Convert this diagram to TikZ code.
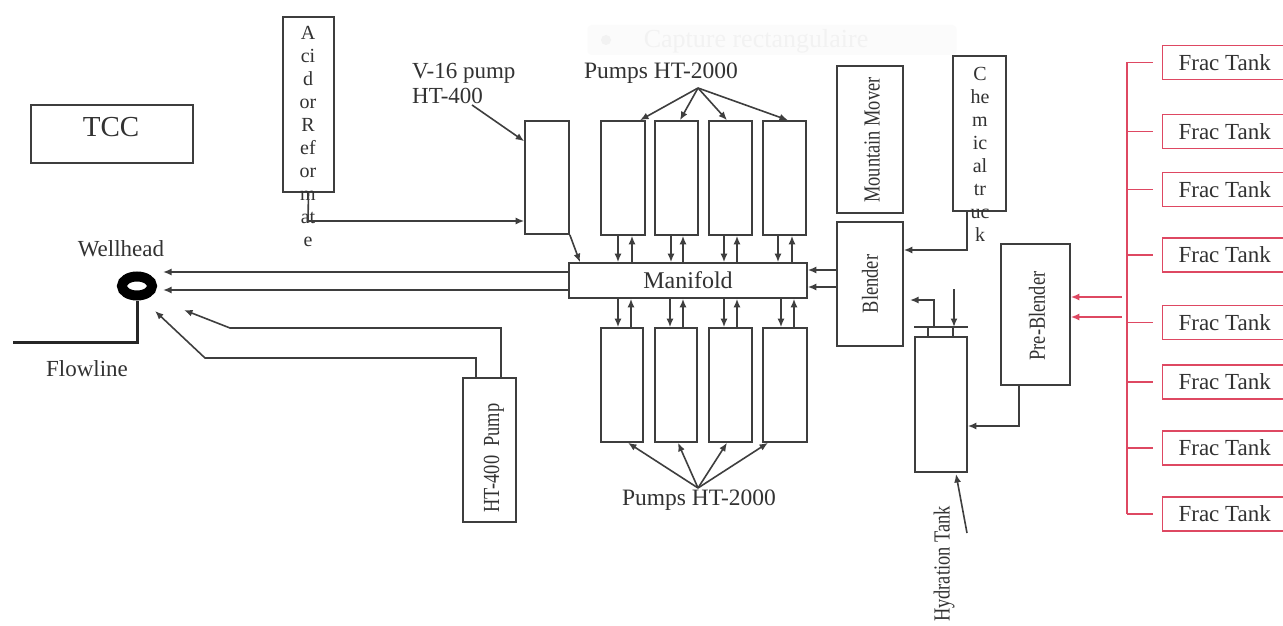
\documentclass[tikz,border=0pt]{standalone}
\usepackage{fontspec}
\setmainfont{Liberation Serif}
\usetikzlibrary{arrows.meta,shapes.geometric,calc}
\definecolor{linec}{RGB}{62,62,62}
\definecolor{txtc}{RGB}{50,50,50}
\definecolor{fracred}{RGB}{222,72,98}
\definecolor{ghost}{RGB}{242,242,242}
\definecolor{ghostbg}{RGB}{251,251,251}
\newcommand{\rottext}[1]{\scalebox{0.8}[1]{#1}}
\tikzset{
  box/.style={draw=linec, line width=1.6pt, inner sep=0pt},
  lbl/.style={text=txtc, inner sep=0pt, font=\fontsize{23}{23}\selectfont},
  conn/.style={draw=linec, line width=1.6pt},
  arr/.style={conn, -{Latex[length=8.5pt,width=7pt]}},
  redline/.style={draw=fracred, line width=1.5pt},
  redarr/.style={redline, -{Latex[length=8.5pt,width=7pt]}},
  frac/.style={draw=fracred, line width=1.4pt, inner sep=0pt, minimum width=124pt,
    minimum height=34pt, text=txtc, font=\fontsize{23}{23}\selectfont},
  stack/.style={text=txtc, inner sep=0pt, align=center, font=\fontsize{20}{23}\selectfont}
}
\begin{document}
\begin{tikzpicture}[x=1pt,y=-1pt]
\useasboundingbox (0,0) rectangle (1283,626);
\fill[white] (0,0) rectangle (1283,626);
\clip (0,0) rectangle (1283,626);

% faint screen-capture ghost
\node[fill=ghostbg, rounded corners=4pt, minimum width=369pt, minimum height=30pt, inner sep=0pt] (ghostbox) at (772,40) {};
\node[circle, fill=ghost, minimum size=10pt, inner sep=0pt] (ghostdot) at (606,40) {};
\node[lbl, text=ghost, font=\fontsize{26}{26}\selectfont] (ghosttext) at (756,41) {Capture rectangulaire};

% TCC
\node[box, minimum width=162pt, minimum height=58pt] (tcc) at (112,134) {};
\node[lbl, font=\fontsize{29}{29}\selectfont] (tcctext) at (111,127) {TCC};

% Acid or Reformate
\node[box, minimum width=51pt, minimum height=175pt] (acid) at (308.5,104.5) {};
\node[stack, anchor=north] (acidtext) at (308,26.5) {A\\ci\\d\\or\\R\\ef\\or\\m\\at\\e};

% V-16 pump
\node[box, minimum width=44pt, minimum height=113pt] (v16) at (547,177.5) {};
\node[lbl, anchor=west] (v16a) at (412,73) {V-16 pump};
\node[lbl, anchor=west] (v16b) at (412,96) {HT-400};
\coordinate (v16tail) at (472,105);
\draw[arr] (v16tail) -- ($(v16.north west)+(0,21)$);
\coordinate (acidbend) at (308,221);
\draw[arr] (acid.south) -- (acidbend) -- (acidbend -| v16.west);

% Manifold
\node[box, minimum width=238pt, minimum height=35pt, lbl, font=\fontsize{24}{24}\selectfont] (man) at (688,280.5) {Manifold};
\draw[arr] (v16.south east) -- (580,0 |- man.north);

% Top pumps
\node[box, minimum width=44pt, minimum height=114pt] (tp1) at (623,178) {};
\node[box, minimum width=43pt, minimum height=114pt] (tp2) at (676.5,178) {};
\node[box, minimum width=43pt, minimum height=114pt] (tp3) at (730.5,178) {};
\node[box, minimum width=43pt, minimum height=114pt] (tp4) at (784.5,178) {};
\node[lbl, font=\fontsize{23.5}{23.5}\selectfont] (ptop) at (661,73) {Pumps HT-2000};
\coordinate (ptopfan) at (698,88);
\draw[arr] (ptopfan) -- (640,0 |- tp1.north);
\draw[arr] (ptopfan) -- (680,0 |- tp2.north);
\draw[arr] (ptopfan) -- (727,0 |- tp3.north);
\draw[arr] (ptopfan) -- (788,0 |- tp4.north);
\foreach \x in {618,671,724,778} \draw[arr] (\x,0 |- tp1.south) -- (\x,0 |- man.north);
\foreach \x in {632,683,737,792} \draw[arr] (\x,0 |- man.north) -- (\x,0 |- tp1.south);

% Bottom pumps
\node[box, minimum width=42pt, minimum height=114pt] (bp1) at (622,385) {};
\node[box, minimum width=42pt, minimum height=114pt] (bp2) at (676,385) {};
\node[box, minimum width=43pt, minimum height=114pt] (bp3) at (730.5,385) {};
\node[box, minimum width=44pt, minimum height=114pt] (bp4) at (785,385) {};
\node[lbl, font=\fontsize{23.5}{23.5}\selectfont] (pbot) at (699,500) {Pumps HT-2000};
\coordinate (pbotfan) at (698,488);
\draw[arr] (pbotfan) -- (628,0 |- bp1.south);
\draw[arr] (pbotfan) -- (678,0 |- bp2.south);
\draw[arr] (pbotfan) -- (727,0 |- bp3.south);
\draw[arr] (pbotfan) -- (768,0 |- bp4.south);
\foreach \x in {618,670,724,781} \draw[arr] (\x,0 |- man.south) -- (\x,0 |- bp1.north);
\foreach \x in {631,683,737,794} \draw[arr] (\x,0 |- bp1.north) -- (\x,0 |- man.south);

% Wellhead
\node[ellipse, draw=black, line width=10pt, minimum width=30pt, minimum height=19pt, inner sep=0pt] (wellhead) at (137,286) {};
\node[lbl] (wellheadlbl) at (121,249) {Wellhead};
\coordinate (flowbend) at (137,342);
\coordinate (flowend) at (13,342);
\draw[black!85, line width=3pt] (wellhead.south) -- (flowbend) -- (flowend);
\node[lbl] (flowlbl) at (87,369) {Flowline};
\coordinate (wh1) at (163,272);
\coordinate (wh2) at (163,290);
\draw[arr, line width=2.8pt] (man.west |- wh1) -- (wh1);
\draw[arr, line width=2pt] (man.west |- wh2) -- (wh2);

% HT-400 Pump
\node[box, minimum width=53pt, minimum height=144pt] (ht400) at (489.5,450) {};
\node[lbl, rotate=90] (ht400text) at (494,458) {\rottext{HT-400\ \ Pump}};
\coordinate (whA) at (184,310);
\coordinate (whB) at (155,311);
\draw[arr] (501,0 |- ht400.north) -- (501,328) -- (230,328) -- (whA);
\draw[arr] (476,0 |- ht400.north) -- (476,358) -- (205,358) -- (whB);

% Mountain Mover
\node[box, minimum width=66pt, minimum height=147pt] (mm) at (870,139.5) {};
\node[lbl, rotate=90] (mmtext) at (872,140) {\rottext{Mountain Mover}};

% Chemical truck
\node[box, minimum width=53pt, minimum height=155pt] (chem) at (979.5,133.5) {};
\node[stack, anchor=north] (chemtext) at (980,67) {C\\he\\m\\ic\\al\\tr\\uc\\k};

% Blender
\node[box, minimum width=66pt, minimum height=124pt] (blender) at (870,284) {};
\node[lbl, rotate=90] (blendertext) at (870,284) {\rottext{Blender}};
\draw[arr] (967,0 |- chem.south) -- (967,250) -- (blender.east |- 0,250);
\draw[arr] (blender.west |- 0,270) -- (man.east |- 0,270);
\draw[arr] (blender.west |- 0,287) -- (man.east |- 0,287);

% Hydration tank
\node[box, minimum width=52pt, minimum height=135pt] (ht) at (941,404.5) {};
\draw[conn] ($(ht.north west)+(0,-9)$) -- ($(ht.north east)+(0,-9)$);
\draw[conn] (928,328) -- (928,0 |- ht.north);
\draw[conn] (953,328) -- (953,0 |- ht.north);
\coordinate (htout) at (910,300);
\draw[arr] (934,328) -- (934,300) -- (htout);
\coordinate (htin) at (954,289);
\draw[arr] (htin) -- (954,327);
\coordinate (htlbltip) at (967,533);
\draw[arr] (htlbltip) -- (956,474);
\node[lbl, rotate=90] (htlbl) at (944,564) {\rottext{Hydration Tank}};

% Pre-Blender
\node[box, minimum width=69pt, minimum height=141pt] (preb) at (1035.5,314.5) {};
\node[lbl, rotate=90] (prebtext) at (1037,316) {\rottext{Pre-Blender}};
\draw[arr] (1019,0 |- preb.south) -- (1019,426) -- (ht.east |- 0,426);

% Frac tanks
\coordinate (bustop) at (1127,62.5);
\coordinate (busbot) at (1127,514);
\draw[redline] (bustop) -- (busbot);
\foreach \i/\y in {1/62.5,2/131.5,3/189.5,4/255,5/322.5,6/382,7/448,8/514} {
  \node[frac, anchor=west] (frac\i) at (1162,\y) {Frac Tank};
  \draw[redline] (1127,0 |- frac\i.west) -- ($(frac\i.west)+(-9,0)$);
}
\coordinate (red1) at (1122,297);
\coordinate (red2) at (1122,317);
\draw[redarr] (red1) -- (preb.east |- red1);
\draw[redarr] (red2) -- (preb.east |- red2);
\end{tikzpicture}
\end{document}
